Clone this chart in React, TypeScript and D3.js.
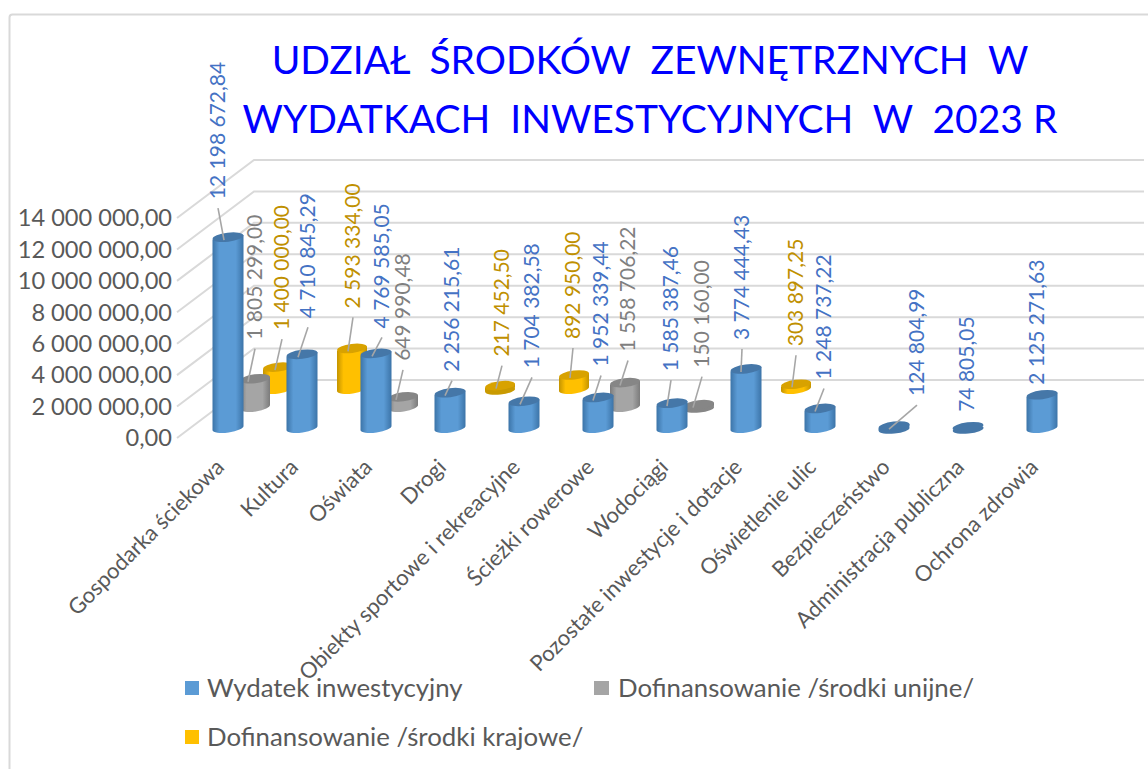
import React from "react";
import * as d3 from "d3";

const titleLines = ["UDZIAŁ  ŚRODKÓW  ZEWNĘTRZNYCH  W", "WYDATKACH  INWESTYCYJNYCH  W  2023 R"];
const categories = ["Gospodarka ściekowa", "Kultura", "Oświata", "Drogi", "Obiekty sportowe i rekreacyjne", "Ścieżki rowerowe", "Wodociągi", "Pozostałe inwestycje i dotacje", "Oświetlenie ulic", "Bezpieczeństwo", "Administracja publiczna", "Ochrona zdrowia"];
const wydatek = [12198672.84, 4710845.29, 4769585.05, 2256215.61, 1704382.58, 1952339.44, 1585387.46, 3774444.43, 1248737.22, 124804.99, 74805.05, 2125271.63];
const unijne = [1805299.0, null, 649990.48, null, null, 1558706.22, 150160.0, null, null, null, null, null];
const krajowe = [1400000.0, 2593334.0, null, 217452.5, 892950.0, null, null, 303897.25, null, null, null, null];
const yTicks = [0, 2000000, 4000000, 6000000, 8000000, 10000000, 12000000, 14000000];

// layout: [label x shift from bar centre, label gap above bar top, leader end x shift]
const blueLabelLayout = [[-10, 38, -4], [6, 36, -4], [6, 25, -4], [2, 21, -5], [8, 33, -4], [3, 31, -5], [-1, 32, -5], [-4, 29, -5], [4, 29, -5], [23, 30, -5], [-1, 15, 0], [-5, 10, 0]];
const grayLabelLayout = [[0, 39, -7], null, [0, 36, -7], null, null, [3, 31, -5], [3, 37, -6]];
const orangeLabelLayout = [[4, 37, -3], [1, 40, -4], null, [2, 29, -4], [-1, 36, -4], null, null, [0, 38, -4]];

const W = 1148, H = 769;
const FONT = "Lato, 'Open Sans', sans-serif";

const xCat = d3.scalePoint<string>().domain(categories).range([228, 1042]);
const heightScale = d3.scaleLinear().domain([0, 14000000]).range([0, 219]);
const frontY = d3.scaleLinear().domain([0, 14000000]).range([438, 218]);
const backY = d3.scaleLinear().domain([0, 14000000]).range([380, 160]);
const fmt = (v: number) => {
  const [a, b] = v.toFixed(2).split(".");
  return a.replace(/\B(?=(\d{3})+(?!\d))/g, " ") + "," + b;
};

const seriesDefs = [
  { key: "krajowe", name: "Dofinansowanie /środki krajowe/", vals: krajowe, dx: 50, base: 389, w: 30, ry: 4.5, grad: "gO", top: "#d8a200", text: "#bf9000", swatch: "#ffc000", layout: orangeLabelLayout },
  { key: "unijne", name: "Dofinansowanie /środki unijne/", vals: unijne, dx: 27, base: 407, w: 30, ry: 4.5, grad: "gG", top: "#868686", text: "#7f7f7f", swatch: "#a5a5a5", layout: grayLabelLayout },
  { key: "wydatek", name: "Wydatek inwestycyjny", vals: wydatek, dx: 0, base: 428, w: 31, ry: 4.5, grad: "gB", top: "#4577a8", text: "#4472c4", swatch: "#5b9bd5", layout: blueLabelLayout },
];

function cylinderPath(cx: number, w: number, topY: number, baseY: number, ry: number) {
  const t = 2.2; // tilt of the ellipse
  const l = cx - w / 2, r = cx + w / 2;
  return `M${l},${topY + t} L${l},${baseY + t} A${w / 2},${ry} -8 0 0 ${r},${baseY - t} L${r},${topY - t} Z`;
}

function Cyl({ s, i, v }: any) {
  const cx = (xCat(categories[i]) as number) + s.dx;
  const h = heightScale(v);
  const topY = s.base - h;
  return (
    <g>
      {h > 1.5 && <path d={cylinderPath(cx, s.w, topY, s.base, s.ry)} fill={`url(#${s.grad})`} />}
      {h <= 4 && <ellipse cx={cx} cy={s.base + 1.5} rx={s.w / 2} ry={s.ry - 0.5} transform={`rotate(-6 ${cx} ${s.base})`} fill={s.grad === "gO" ? "#c99a00" : s.top} />}
      <ellipse cx={cx} cy={topY} rx={s.w / 2} ry={s.ry} transform={`rotate(-7 ${cx} ${topY})`} fill={s.top} />
    </g>
  );
}

function Labels({ s, i, v }: any) {
  const lay = s.layout[i];
  if (!lay) return null;
  const cx = (xCat(categories[i]) as number) + s.dx;
  const topY = s.base - heightScale(v);
  const lx = cx + lay[0];
  const ly = topY - lay[1];
  const needLeader = lay[1] > 18;
  return (
    <g>
      {needLeader && <line x1={lx} y1={ly + 9} x2={cx + lay[2]} y2={topY + 3} stroke="#a6a6a6" strokeWidth={1.6} />}
      <text transform={`translate(${lx},${ly}) rotate(-90)`} dy="0.35em" fontSize={21} fill={s.text} fontFamily={FONT}>{fmt(v)}</text>
    </g>
  );
}

export default function App() {
  return (
    <svg width={W} height={H} style={{ position: "absolute", left: 0, top: 0, background: "#fff" }}>
      <defs>
        {[["gB", "#3c74a8", "#5b9bd5"], ["gG", "#7b7b7b", "#a5a5a5"], ["gO", "#c49400", "#ffc000"]].map(([id, edge, mid]) => (
          <linearGradient key={id} id={id} x1="0" x2="1" y1="0" y2="0">
            <stop offset="0" stopColor={edge} />
            <stop offset="0.22" stopColor={mid} />
            <stop offset="0.75" stopColor={mid} />
            <stop offset="1" stopColor={edge} />
          </linearGradient>
        ))}
      </defs>
      <rect x={9.5} y={14.5} width={1300} height={900} rx={3} fill="#fff" stroke="#d9d9d9" strokeWidth={2} />

      {titleLines.map((t, i) => (
        <text key={t} x={650} y={74 + i * 59} textAnchor="middle" fontSize={39} fill="#0000ff" fontFamily={FONT} style={{ whiteSpace: "pre" }}>{t}</text>
      ))}

      {yTicks.map((t) => (
        <g key={t}>
          <path d={`M177,${frontY(t)} L254,${backY(t)} L1144,${backY(t)}`} fill="none" stroke="#d9d9d9" strokeWidth={2} />
          <text x={172} y={frontY(t)} dy="0.35em" textAnchor="end" fontSize={23.6} fill="#595959" fontFamily={FONT}>{fmt(t)}</text>
        </g>
      ))}

      {seriesDefs.map((s) => (
        <g key={s.key}>
          {s.vals.map((v, i) => (v == null ? null : <Cyl key={i} s={s} i={i} v={v} />))}
        </g>
      ))}
      {seriesDefs.map((s) => (
        <g key={s.key}>
          {s.vals.map((v, i) => (v == null ? null : <Labels key={i} s={s} i={i} v={v} />))}
        </g>
      ))}

      {categories.map((c) => (
        <text key={c} transform={`translate(${(xCat(c) as number) - 8},463) rotate(-45)`} dy="0.35em" textAnchor="end" fontSize={22} fill="#595959" fontFamily={FONT}>{c}</text>
      ))}

      <g fontFamily={FONT} fontSize={25.8} fill="#595959">
        <rect x={185} y={681} width={14} height={14} fill={seriesDefs[2].swatch} />
        <text x={207} y={697}>{seriesDefs[2].name}</text>
        <rect x={594} y={681} width={15} height={14} fill={seriesDefs[1].swatch} />
        <text x={618} y={697}>{seriesDefs[1].name}</text>
        <rect x={185} y={730} width={14} height={14} fill={seriesDefs[0].swatch} />
        <text x={207} y={746}>{seriesDefs[0].name}</text>
      </g>
    </svg>
  );
}
